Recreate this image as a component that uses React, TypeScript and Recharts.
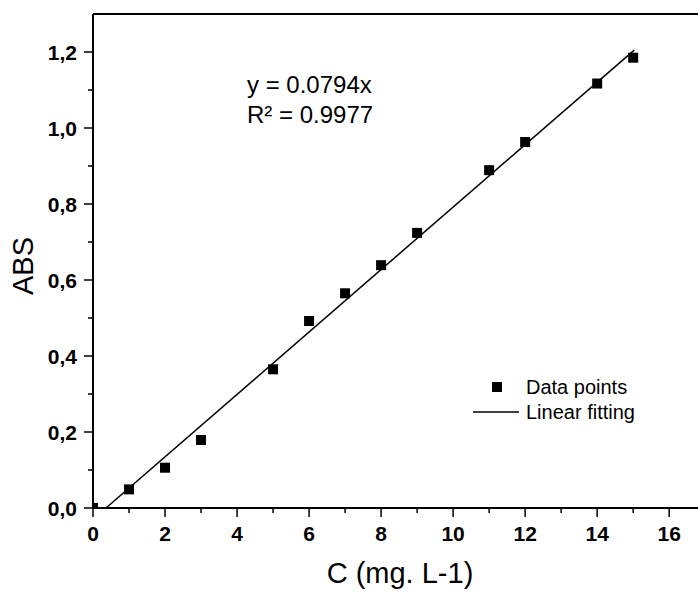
import React from 'react'
import { ScatterChart, Scatter, XAxis, YAxis, ReferenceLine } from 'recharts'

const concentration = [0, 1, 2, 3, 5, 6, 7, 8, 9, 11, 12, 14, 15]
const absorbance = [0, 0.049, 0.106, 0.179, 0.365, 0.492, 0.565, 0.639, 0.724, 0.889, 0.963, 1.117, 1.185]

const fitX = [0.36, 15.03]
const fitY = [0, 1.205]

const xTicks = [0, 1, 2, 3, 4, 5, 6, 7, 8, 9, 10, 11, 12, 13, 14, 15, 16]
const xMajor = [0, 2, 4, 6, 8, 10, 12, 14, 16]
const yTicks = [0, 0.1, 0.2, 0.3, 0.4, 0.5, 0.6, 0.7, 0.8, 0.9, 1.0, 1.1, 1.2]
const yMajor = ['0,0', '0,2', '0,4', '0,6', '0,8', '1,0', '1,2']

const points = concentration.map((c, i) => ({ x: c, y: absorbance[i] }))
const fitLine = fitX.map((x, i) => ({ x, y: fitY[i] }))

const font = "Arial, 'Liberation Sans', sans-serif"

const XTick = (props: any) => {
  const { x, y, payload } = props
  const v = payload.value
  const major = xMajor.includes(v)
  return (
    <g>
      <line x1={x} y1={y} x2={x} y2={y + (major ? 9 : 5)} stroke="#000" strokeWidth={1.5} />
      {major && (
        <text x={x} y={y + 33} textAnchor="middle" fontFamily={font} fontWeight="bold" fontSize={21} fill="#000">
          {v}
        </text>
      )}
    </g>
  )
}

const YTick = (props: any) => {
  const { x, y, payload } = props
  const v = payload.value
  const idx = Math.round(v * 10)
  const major = idx % 2 === 0
  return (
    <g>
      <line x1={x} y1={y} x2={x - (major ? 9 : 5)} y2={y} stroke="#000" strokeWidth={1.5} />
      {major && (
        <text x={x - 16} y={y} dy="0.36em" textAnchor="end" fontFamily={font} fontWeight="bold" fontSize={21} fill="#000">
          {yMajor[idx / 2]}
        </text>
      )}
    </g>
  )
}

const square = (props: any) => {
  const { cx, cy } = props
  return <rect x={cx - 5} y={cy - 5} width={10} height={10} fill="#000" />
}

export default function App() {
  return (
    <div style={{ position: 'absolute', left: 0, top: 0, width: 698, height: 592, background: '#fff' }}>
      <ScatterChart width={698} height={592} margin={{ top: 14, right: 0, left: 33, bottom: 44 }}>
        <XAxis
          type="number"
          dataKey="x"
          domain={[0, 16.8]}
          ticks={xTicks}
          interval={0}
          allowDataOverflow
          height={40}
          tickSize={0}
          tickMargin={0}
          tickLine={false}
          tick={<XTick />}
          axisLine={{ stroke: '#000', strokeWidth: 2 }}
        />
        <YAxis
          type="number"
          dataKey="y"
          domain={[0, 1.3]}
          ticks={yTicks}
          interval={0}
          allowDataOverflow
          width={60}
          tickSize={0}
          tickMargin={0}
          tickLine={false}
          tick={<YTick />}
          axisLine={{ stroke: '#000', strokeWidth: 2 }}
        />
        <ReferenceLine y={1.3} stroke="#000" strokeWidth={2} />
        <Scatter
          data={fitLine}
          line={{ stroke: '#000', strokeWidth: 1.5 }}
          shape={() => <g />}
          isAnimationActive={false}
        />
        <Scatter data={points} shape={square} isAnimationActive={false} />
        <text x={247} y={93} fontFamily={font} fontSize={24} fill="#000">y = 0.0794x</text>
        <text x={247} y={123} fontFamily={font} fontSize={24} fill="#000">R² = 0.9977</text>
        <rect x={492} y={382} width={10} height={10} fill="#000" />
        <text x={526} y={394} fontFamily={font} fontSize={20} fill="#000">Data points</text>
        <line x1={473} y1={412} x2={519} y2={412} stroke="#000" strokeWidth={1.5} />
        <text x={526} y={419} fontFamily={font} fontSize={20} fill="#000">Linear fitting</text>
        <text x={400} y={583} textAnchor="middle" fontFamily={font} fontSize={29} fill="#000">C (mg. L-1)</text>
        <text x={33} y={266} textAnchor="middle" fontFamily={font} fontSize={29} fill="#000" transform="rotate(-90 33 266)">ABS</text>
      </ScatterChart>
    </div>
  )
}
